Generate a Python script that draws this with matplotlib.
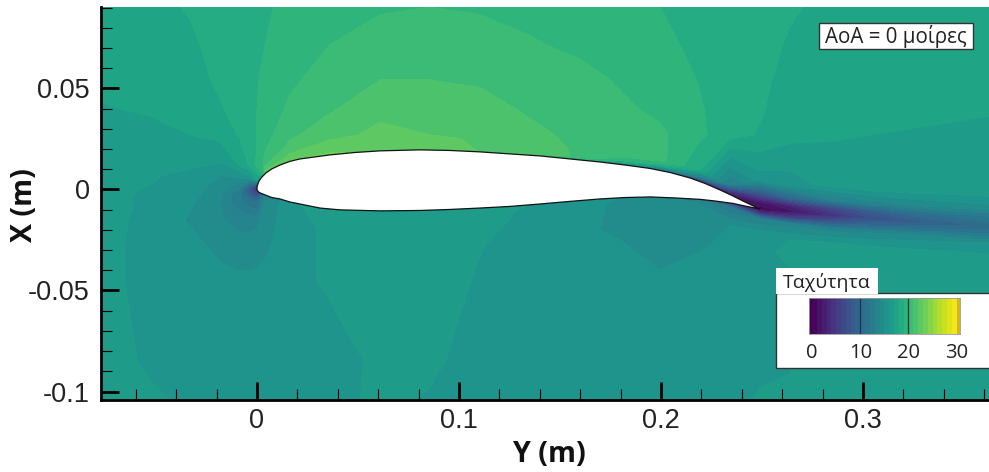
import numpy as np
import matplotlib
matplotlib.use("Agg")
import matplotlib.pyplot as plt
from matplotlib.patches import Rectangle

# survey stations along the chord axis (m)
x_stations = [-0.0780, -0.0530, -0.0330, -0.0180, -0.0084, -0.0035, 0.0, 0.0040, 0.0163, 0.0361,
              0.0609, 0.0856, 0.1104, 0.1351, 0.1599, 0.1797, 0.1995, 0.2193, 0.2342, 0.2490,
              0.2639, 0.2837, 0.3035, 0.3233, 0.3431, 0.3625]

# far field rows (m), same height at every station
y_upper_rows = [0.0903, 0.0715, 0.0542, 0.0394, 0.0270]
y_lower_rows = [-0.0448, -0.0646, -0.0844, -0.1047]

# rows that follow the profile and the wake, one line per station (m)
y_near_rows = [
    [0.0146, 0.0072, 0.0022, -0.0002, -0.0027, -0.0077, -0.0151, -0.0275],
    [0.0146, 0.0072, 0.0022, -0.0002, -0.0027, -0.0077, -0.0151, -0.0275],
    [0.0146, 0.0072, 0.0022, -0.0002, -0.0027, -0.0077, -0.0151, -0.0275],
    [0.0146, 0.0072, 0.0022, -0.0002, -0.0027, -0.0077, -0.0151, -0.0275],
    [0.0121, 0.0057, 0.0017, -0.0002, -0.0022, -0.0062, -0.0151, -0.0275],
    [0.0121, 0.0057, 0.0017, -0.0002, -0.0022, -0.0062, -0.0151, -0.0275],
    [0.0121, 0.0047, 0.0012, -0.0002, -0.0022, -0.0062, -0.0161, -0.0275],
    [0.0171, 0.0116, 0.0092, 0.0027, -0.0032, -0.0057, -0.0161, -0.0275],
    [0.0220, 0.0166, 0.0141, 0.0037, -0.0062, -0.0082, -0.0176, -0.0275],
    [0.0245, 0.0196, 0.0171, 0.0037, -0.0097, -0.0116, -0.0200, -0.0275],
    [0.0265, 0.0210, 0.0191, 0.0037, -0.0106, -0.0126, -0.0200, -0.0275],
    [0.0265, 0.0215, 0.0196, 0.0037, -0.0101, -0.0121, -0.0200, -0.0275],
    [0.0245, 0.0205, 0.0186, 0.0037, -0.0092, -0.0111, -0.0200, -0.0275],
    [0.0225, 0.0186, 0.0166, 0.0037, -0.0077, -0.0097, -0.0200, -0.0275],
    [0.0196, 0.0166, 0.0146, 0.0037, -0.0057, -0.0077, -0.0200, -0.0275],
    [0.0176, 0.0146, 0.0126, 0.0037, -0.0042, -0.0062, -0.0200, -0.0275],
    [0.0146, 0.0121, 0.0101, 0.0027, -0.0037, -0.0057, -0.0176, -0.0275],
    [0.0097, 0.0062, 0.0042, -0.0002, -0.0052, -0.0072, -0.0176, -0.0275],
    [0.0022, -0.0012, -0.0027, -0.0047, -0.0067, -0.0087, -0.0176, -0.0275],
    [0.0047, -0.0027, -0.0067, -0.0097, -0.0116, -0.0146, -0.0225, -0.0300],
    [0.0022, -0.0042, -0.0082, -0.0111, -0.0141, -0.0171, -0.0250, -0.0324],
    [0.0022, -0.0052, -0.0092, -0.0126, -0.0161, -0.0196, -0.0275, -0.0349],
    [-0.0002, -0.0067, -0.0106, -0.0141, -0.0176, -0.0215, -0.0300, -0.0374],
    [-0.0012, -0.0077, -0.0121, -0.0156, -0.0191, -0.0230, -0.0324, -0.0389],
    [-0.0017, -0.0087, -0.0131, -0.0171, -0.0205, -0.0250, -0.0339, -0.0399],
    [-0.0027, -0.0092, -0.0141, -0.0186, -0.0220, -0.0265, -0.0359, -0.0408],
]

# speed, one line per station, from top row to bottom row
speed = [
    [17.5, 17.6, 17.3, 16.9, 16.7, 16.5, 16.5, 16.4, 16.4, 16.4, 16.4, 16.4, 16.3, 16.3, 16.5, 16.6, 16.8],
    [17.7, 17.7, 17.4, 17.1, 16.7, 16.3, 16.1, 16.0, 15.9, 15.8, 15.8, 15.7, 15.7, 15.7, 15.7, 15.8, 16.2],
    [18.1, 17.8, 17.6, 17.4, 17.0, 16.3, 15.8, 15.6, 15.5, 15.4, 15.1, 14.9, 15.3, 15.5, 15.6, 15.7, 15.8],
    [18.5, 18.4, 18.2, 17.9, 17.3, 16.2, 15.0, 14.6, 14.4, 14.2, 14.0, 14.1, 14.7, 15.3, 15.5, 15.6, 15.8],
    [18.8, 18.7, 18.6, 18.4, 18.1, 17.1, 15.0, 13.5, 12.8, 12.0, 12.3, 13.6, 14.4, 15.2, 15.5, 15.6, 15.8],
    [18.8, 18.8, 18.8, 18.8, 18.7, 18.2, 15.5, 10.0, 8.0, 9.0, 11.5, 13.5, 14.5, 15.2, 15.5, 15.6, 15.8],
    [18.9, 18.9, 18.95, 19.0, 19.0, 19.2, 17.0, 5.0, 4.0, 6.0, 11.0, 13.7, 14.6, 15.2, 15.5, 15.6, 15.8],
    [18.9, 19.0, 19.2, 19.4, 19.6, 20.1, 21.0, 22.0, 20.0, 13.0, 14.0, 14.7, 14.8, 15.3, 15.5, 15.6, 15.8],
    [19.2, 19.5, 19.8, 20.2, 20.8, 21.2, 22.2, 23.1, 22.0, 15.8, 15.8, 15.4, 15.6, 15.8, 15.8, 15.8, 15.8],
    [19.6, 20.0, 20.5, 20.9, 21.6, 22.0, 22.7, 23.2, 22.0, 16.5, 16.4, 16.3, 16.2, 16.1, 15.9, 15.6, 15.7],
    [19.9, 20.4, 21.0, 21.7, 22.3, 22.6, 22.8, 22.9, 22.0, 16.8, 16.7, 16.6, 16.6, 16.5, 16.4, 16.2, 16.2],
    [20.0, 20.5, 21.0, 21.6, 22.0, 22.3, 22.6, 22.8, 22.0, 16.9, 16.8, 16.7, 16.6, 16.5, 16.4, 16.2, 15.9],
    [19.9, 20.4, 20.9, 21.3, 21.6, 21.8, 21.9, 21.95, 21.5, 16.4, 16.3, 16.2, 16.05, 15.9, 15.7, 15.6, 15.6],
    [19.7, 20.1, 20.5, 20.9, 21.2, 21.3, 21.4, 21.2, 21.0, 16.0, 15.9, 15.7, 15.6, 15.5, 15.5, 15.5, 15.5],
    [19.3, 19.8, 20.3, 20.6, 20.8, 20.9, 20.9, 19.0, 20.0, 15.5, 15.4, 15.2, 15.2, 15.3, 15.4, 15.4, 15.4],
    [19.1, 19.4, 19.9, 20.2, 20.4, 20.5, 19.5, 16.0, 16.0, 15.0, 14.8, 14.8, 15.1, 15.3, 15.4, 15.4, 15.4],
    [19.0, 19.2, 19.5, 19.8, 20.2, 20.4, 18.5, 13.0, 15.0, 14.3, 14.2, 14.2, 14.5, 15.2, 15.4, 15.4, 15.4],
    [18.6, 18.8, 18.95, 19.1, 19.2, 18.0, 13.0, 5.0, 12.0, 13.5, 14.0, 14.4, 14.9, 15.4, 15.5, 15.5, 15.5],
    [18.4, 18.4, 18.4, 18.4, 18.4, 13.0, 4.0, 2.0, 5.0, 6.0, 12.0, 15.0, 15.2, 15.5, 15.6, 15.6, 15.7],
    [18.4, 18.3, 18.2, 18.1, 17.9, 15.5, 7.0, 1.5, 0.5, 4.0, 13.0, 15.8, 15.9, 15.8, 15.8, 15.8, 16.1],
    [18.1, 17.9, 17.7, 17.5, 17.3, 15.5, 10.0, 3.0, 1.5, 6.0, 13.5, 16.0, 16.1, 15.9, 15.9, 15.9, 16.2],
    [17.8, 17.7, 17.6, 17.4, 17.1, 16.3, 13.0, 6.5, 4.0, 8.0, 13.5, 16.5, 16.6, 16.6, 16.6, 16.6, 16.6],
    [17.7, 17.6, 17.5, 17.3, 17.0, 16.2, 13.5, 9.0, 7.0, 10.0, 14.0, 16.6, 16.7, 16.7, 16.7, 16.7, 16.7],
    [17.7, 17.6, 17.5, 17.3, 16.9, 16.2, 14.0, 10.5, 8.5, 11.0, 14.5, 16.7, 16.8, 16.8, 16.8, 16.8, 16.8],
    [17.7, 17.6, 17.5, 17.2, 16.8, 16.2, 14.3, 11.2, 9.5, 11.5, 14.8, 16.7, 16.8, 16.8, 16.8, 16.8, 16.8],
    [17.7, 17.6, 17.5, 17.1, 16.7, 16.2, 14.5, 11.5, 10.5, 12.0, 15.0, 16.7, 16.8, 16.8, 16.8, 16.8, 16.8],
]

# profile outline, leading edge over the top to the trailing edge and back (m)
airfoil_x = [0.0, 0.0001, 0.0010, 0.0025, 0.0045, 0.0074, 0.0114, 0.0163, 0.0213, 0.0287, 0.0361, 0.0485,
             0.0609, 0.0807, 0.0955, 0.1104, 0.1252, 0.1401, 0.1550, 0.1698, 0.1822, 0.1946, 0.2045,
             0.2144, 0.2218, 0.2292, 0.2356, 0.2416, 0.2490, 0.2416, 0.2356, 0.2267, 0.2193, 0.2069,
             0.1946, 0.1822, 0.1698, 0.1550, 0.1401, 0.1252, 0.1104, 0.0955, 0.0807, 0.0609, 0.0411,
             0.0312, 0.0213, 0.0163, 0.0114, 0.0074, 0.0040, 0.0015, 0.0005, 0.0]
airfoil_y = [0.0, 0.0017, 0.0042, 0.0062, 0.0082, 0.0102, 0.0121, 0.0139, 0.0151, 0.0161, 0.0171, 0.0183,
             0.0191, 0.0196, 0.0193, 0.0186, 0.0176, 0.0166, 0.0151, 0.0136, 0.0121, 0.0104, 0.0084,
             0.0057, 0.0030, -0.0002, -0.0032, -0.0062, -0.0097, -0.0082, -0.0069, -0.0057, -0.0049,
             -0.0042, -0.0037, -0.0040, -0.0047, -0.0059, -0.0072, -0.0084, -0.0092, -0.0099, -0.0104,
             -0.0106, -0.0101, -0.0092, -0.0072, -0.0062, -0.0047, -0.0040, -0.0027, -0.0017, -0.0010, 0.0]

speed_levels = list(range(0, 32))
x_ticks = [0, 0.1, 0.2, 0.3]
x_labels = ["0", "0.1", "0.2", "0.3"]
y_ticks = [-0.1, -0.05, 0, 0.05]
y_labels = ["-0.1", "-0.05", "0", "0.05"]
cbar_ticks = [0, 10, 20, 30]

W, H = 989, 472


def fig_box(x0, y0, x1, y1):
    """Pixel box of the picture to figure fractions (left, bottom, width, height)."""
    return [x0 / W, 1 - y1 / H, (x1 - x0) / W, (y1 - y0) / H]


plt.rcParams["font.family"] = ["Liberation Sans", "DejaVu Sans"]

fig = plt.figure(figsize=(W / 100, H / 100), dpi=100)
ax = fig.add_axes(fig_box(101, 7, 989, 400))

# structured grid, rows run top to bottom
X = np.tile(np.array(x_stations)[:, None], (1, 17))
n = len(x_stations)
Y = np.hstack([
    np.tile(y_upper_rows, (n, 1)),
    np.array(y_near_rows),
    np.tile(y_lower_rows, (n, 1)),
])
ax.contourf(X, Y, np.array(speed), levels=speed_levels, cmap="viridis", vmin=0, vmax=30)
ax.fill(airfoil_x, airfoil_y, facecolor="white", edgecolor="#111111", linewidth=0.9, zorder=3)

ax.set_xlim(-0.0772, 0.3624)
ax.set_ylim(-0.1042, 0.0903)

for side in ("top", "right"):
    ax.spines[side].set_visible(False)
for side in ("left", "bottom"):
    ax.spines[side].set_linewidth(2)

ax.set_xticks(x_ticks, x_labels)
ax.set_yticks(y_ticks, y_labels)
ax.set_xticks(np.arange(-0.06, 0.37, 0.02), minor=True)
ax.set_yticks(np.arange(-0.10, 0.095, 0.01), minor=True)
ax.tick_params(which="major", direction="in", length=13, width=2, labelsize=19.5, colors="black")
ax.tick_params(axis="y", which="major", pad=8)
ax.tick_params(axis="x", which="major", pad=6)
ax.tick_params(which="minor", direction="in", length=8, width=0.8, colors="black")
for lab in ax.get_xticklabels() + ax.get_yticklabels():
    lab.set_color("#222222")

fig.text(549 / W, 1 - 454 / H, "Y (m)", family="Open Sans", weight="bold", fontsize=20.5,
         ha="center", va="center", color="#111111")
fig.text(25 / W, 1 - 205 / H, "X (m)", family="Open Sans", weight="bold", fontsize=20.5,
         ha="center", va="center", rotation=90, color="#111111")

# angle of attack note
fig.add_artist(Rectangle(fig_box(819, 23, 973, 49)[:2], 154 / W, 26 / H, transform=fig.transFigure,
                         facecolor="white", edgecolor="#333333", linewidth=1, zorder=5))
fig.text(896 / W, 1 - 36 / H, "AoA = 0 μοίρες", family="Open Sans", fontsize=14.8,
         ha="center", va="center", color="#222222", zorder=6)

# speed legend panel with its tab
fig.add_artist(Rectangle(fig_box(776, 293, 995, 368)[:2], 219 / W, 75 / H, transform=fig.transFigure,
                         facecolor="white", edgecolor="#333333", linewidth=1, zorder=5))
fig.add_artist(Rectangle(fig_box(776, 268, 878, 294)[:2], 102 / W, 26 / H, transform=fig.transFigure,
                         facecolor="white", edgecolor="none", zorder=5.5))
fig.text(827 / W, 1 - 282 / H, "Ταχύτητα", family="Open Sans", fontsize=14,
         ha="center", va="center", color="#222222", zorder=6)

cax = fig.add_axes(fig_box(808.7, 297.7, 960, 334.3), zorder=7)
edges = np.r_[-0.7, np.arange(31), 30.7]
mids = (edges[:-1] + edges[1:]) / 2
cmap = plt.get_cmap("viridis").with_extremes(over="#d0b81e")
cax.pcolormesh(edges, [0, 1], mids[None, :], cmap=cmap, vmin=0, vmax=30)
for t in cbar_ticks[1:3]:
    cax.axvline(t, color="#223344", linewidth=0.9)
cax.set_xlim(-0.7, 30.7)
cax.set_yticks([])
cax.set_xticks(cbar_ticks, [str(t) for t in cbar_ticks], family="Open Sans", fontsize=14.5, color="#222222")
cax.tick_params(axis="x", length=0, pad=6)
for s in cax.spines.values():
    s.set_edgecolor("#999999")
    s.set_linewidth(0.6)

fig.savefig("out.png", dpi=100)
plt.close(fig)
